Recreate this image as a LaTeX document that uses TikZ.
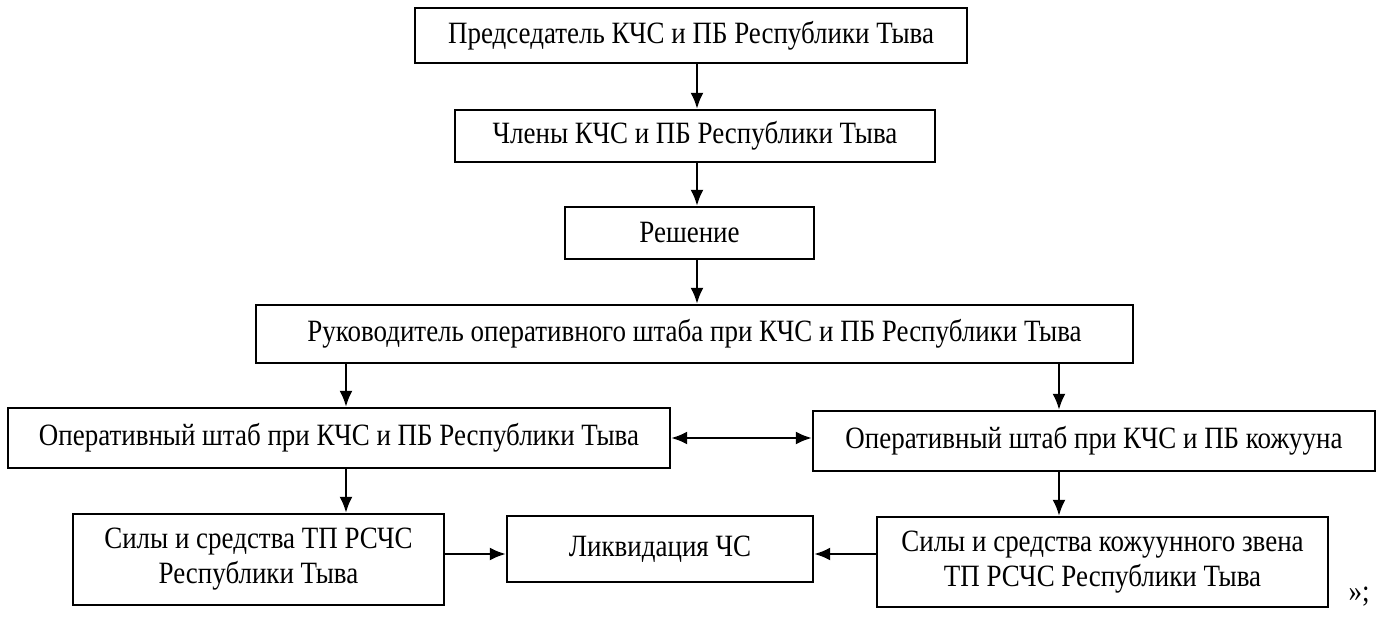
\documentclass[tikz,border=0pt]{standalone}
\usepackage{fontspec}
\setmainfont{Liberation Serif}[FakeStretch=0.87]
\usetikzlibrary{positioning,arrows.meta}
\tikzset{blok/.style={draw, line width=2.4pt, inner sep=0pt, align=center, font=\fontsize{31}{35}\selectfont}}
\tikzset{
  strel/.style={line width=2.2pt, -{Latex[length=16pt,width=13pt]}},
  dvstrel/.style={line width=2.2pt, {Latex[length=16pt,width=13pt]}-{Latex[length=16pt,width=13pt]}}
}

\begin{document}
\begin{tikzpicture}[x=1pt, y=-1pt]
\useasboundingbox (0,0) rectangle (1391,617);
\node[blok, minimum width=552pt, minimum height=55pt](pred) at (691,35.5) {Председатель КЧС и ПБ Республики Тыва};
\node[blok, minimum width=480pt, minimum height=52pt](chleny) at (695,136) {Члены КЧС и ПБ Республики Тыва};
\node[blok, minimum width=249pt, minimum height=52pt](resh) at (689.5,233) {Решение};
\node[blok, minimum width=877pt, minimum height=58pt](ruk) at (694.5,334) {Руководитель оперативного штаба при КЧС и ПБ Республики Тыва};
\node[blok, minimum width=662pt, minimum height=60pt](opL) at (339,438) {Оперативный штаб при КЧС и ПБ Республики Тыва};
\node[blok, minimum width=562pt, minimum height=60pt](opR) at (1094,441) {Оперативный штаб при КЧС и ПБ кожууна};
\node[blok, minimum width=371pt, minimum height=91pt](silyL) at (258.5,559.5) {Силы и средства ТП РСЧС\\Республики Тыва};
\node[blok, minimum width=306pt, minimum height=66pt](likv) at (660,549) {Ликвидация ЧС};
\node[blok, minimum width=451pt, minimum height=90pt](silyR) at (1102.5,562) {Силы и средства кожуунного звена\\ТП РСЧС Республики Тыва};
\node[blok, draw=none](kav) at (1359,597) {»;};
\coordinate (ax) at (697,0);
\coordinate (lx) at (346,0);
\coordinate (rx) at (1059,0);
\coordinate (ly) at (0,554);
\draw[strel] (pred.south -| ax) -- (chleny.north -| ax);
\draw[strel] (chleny.south -| ax) -- (resh.north -| ax);
\draw[strel] (resh.south -| ax) -- (ruk.north -| ax);
\draw[strel] (ruk.south -| lx) -- (opL.north -| lx);
\draw[strel] (ruk.south -| rx) -- (opR.north -| rx);
\draw[dvstrel] (opL.east) -- (opL.east -| opR.west);
\draw[strel] (opL.south -| lx) -- (silyL.north -| lx);
\draw[strel] (opR.south -| rx) -- (silyR.north -| rx);
\draw[strel] (silyL.east |- ly) -- (likv.west |- ly);
\draw[strel] (silyR.west |- ly) -- (likv.east |- ly);
\end{tikzpicture}
\end{document}
